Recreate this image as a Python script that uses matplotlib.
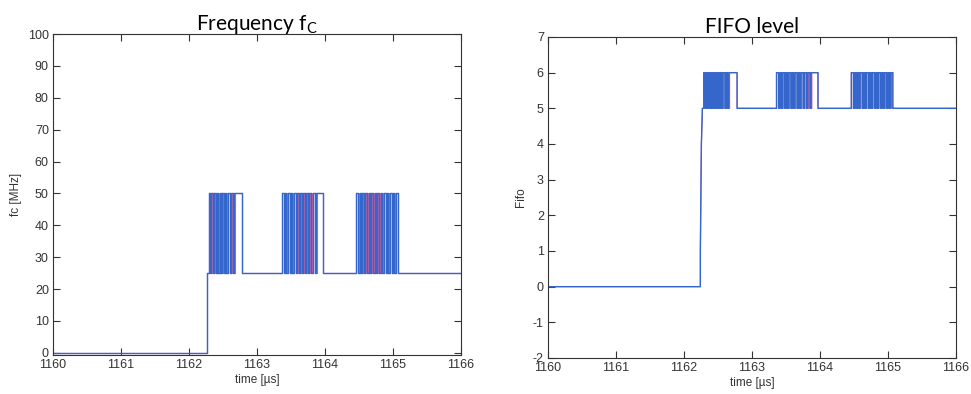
import numpy as np
import matplotlib.pyplot as plt

plt.rcParams['axes.unicode_minus'] = False

# burst timing [us]
t_start = 1160.0
t_end = 1166.0
burst_starts = [1162.29, 1163.36, 1164.46]
burst_ends = [1162.78, 1163.97, 1165.07]
burst_dips = [
    [1162.31, 1162.35, 1162.39, 1162.43, 1162.47, 1162.51, 1162.55, 1162.60, 1162.64],
    [1163.39, 1163.43, 1163.48, 1163.52, 1163.57, 1163.61, 1163.66, 1163.70, 1163.75, 1163.80, 1163.85],
    [1164.49, 1164.53, 1164.57, 1164.62, 1164.66, 1164.71, 1164.75, 1164.80, 1164.84,
     1164.89, 1164.93, 1164.98, 1165.02],
]
dip_width = 0.02

# frequency levels [MHz]
fc_off, fc_low, fc_high = 0, 25, 50
fc_step_time = 1162.26

# FIFO levels
fifo_ramp_t = [1162.24, 1162.245, 1162.25, 1162.255, 1162.27]
fifo_ramp_v = [1, 2, 3, 4, 5]
fifo_low, fifo_high = 5, 6


def pulse_train(low, high, shift=0.0):
    t, v = [], []
    for s, e, dips in zip(burst_starts, burst_ends, burst_dips):
        t += [s, s]
        v += [low, high]
        for d in dips:
            t += [d + shift, d + shift, d + shift + dip_width, d + shift + dip_width]
            v += [high, low, low, high]
        t += [e, e]
        v += [high, low]
    return t, v


def fc_signal(shift=0.0):
    t = [t_start, fc_step_time, fc_step_time]
    v = [fc_off, fc_off, fc_low]
    pt, pv = pulse_train(fc_low, fc_high, shift)
    return np.array(t + pt + [t_end]), np.array(v + pv + [fc_low])


def fifo_signal(shift=0.0):
    t = [t_start, fifo_ramp_t[0]]
    v = [0, 0]
    t += fifo_ramp_t
    v += fifo_ramp_v
    pt, pv = pulse_train(fifo_low, fifo_high, shift)
    return np.array(t + pt + [t_end]), np.array(v + pv + [fifo_low])


blue = '#3566cc'
red = '#d8609a'
axcol = '#333333'

fig = plt.figure(figsize=(9.71, 3.94), dpi=100)
ax1 = fig.add_axes([0.0546, 0.099, 0.4202, 0.8147])
ax2 = fig.add_axes([0.5644, 0.0914, 0.4202, 0.8147])


def style(ax, yticks, ylim, ylabel, title):
    ax.set_xlim(t_start, t_end)
    ax.set_ylim(*ylim)
    ax.set_xticks(np.arange(1160, 1167))
    ax.set_xticklabels([str(x) for x in range(1160, 1167)])
    ax.set_yticks(yticks)
    ax.set_yticklabels([str(y) for y in yticks])
    ax.tick_params(direction='in', top=True, right=True, labelsize=9,
                   colors=axcol, length=5, pad=3)
    for sp in ax.spines.values():
        sp.set_color(axcol)
        sp.set_linewidth(0.8)
    ax.set_xlabel('time [µs]', fontsize=8.5, color=axcol, labelpad=2,
                  family='Liberation Sans')
    ax.set_ylabel(ylabel, fontsize=8.5, color=axcol, labelpad=4,
                  family='Liberation Sans')
    ax.set_title(title, fontsize=15, family='Lato', pad=3)
    for lab in ax.get_xticklabels() + ax.get_yticklabels():
        lab.set_family('Liberation Sans')


t, v = fc_signal(0.01)
ax1.plot(t, v, color=red, lw=0.8)
t, v = fc_signal()
ax1.plot(t, v, color=blue, lw=1.0)
style(ax1, np.arange(0, 101, 10), (-0.7, 100), 'fc [MHz]', 'Frequency f$_\\mathregular{C}$')

t, v = fifo_signal(0.01)
ax2.plot(t, v, color=red, lw=0.8)
t, v = fifo_signal()
ax2.plot(t, v, color=blue, lw=1.0)
style(ax2, np.arange(-2, 8), (-2, 7), 'Fifo', 'FIFO level')

fig.savefig('out.png', dpi=100)
